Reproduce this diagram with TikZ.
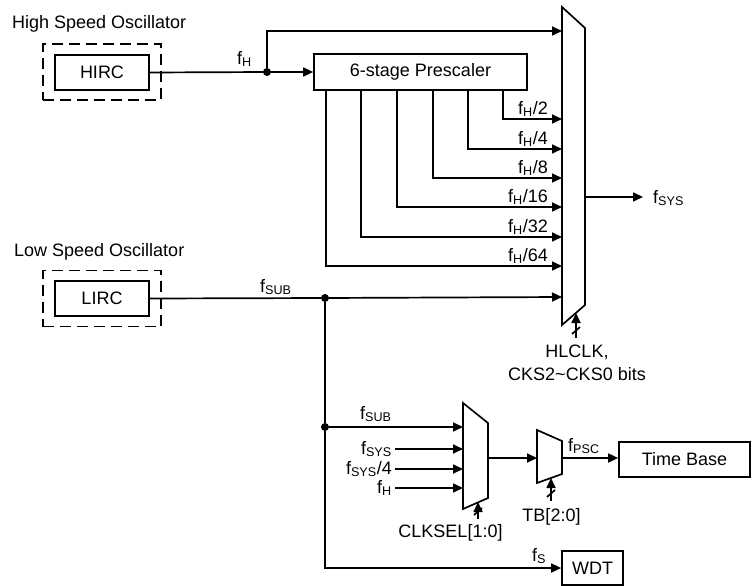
\documentclass[tikz,border=0pt]{standalone}
\usepackage{fontspec}
\setmainfont{Liberation Sans}
\usetikzlibrary{arrows.meta}

\tikzset{
  every node/.style={font=\fontsize{18}{23}\selectfont},
  blk/.style={draw, line width=1.7pt, inner sep=0pt},
  oscbox/.style={draw, dash pattern=on 11pt off 6pt, line width=1.7pt, minimum width=118pt, minimum height=56pt},
  dot/.style={fill=black, circle, inner sep=0pt, minimum size=8pt},
  lbl/.style={inner sep=0pt},
  sig/.style={line width=1.7pt},
  arr/.style={sig, -{Triangle[length=10pt,width=9pt]}},
}

\begin{document}
\begin{tikzpicture}[x=1pt, y=-1pt]
\useasboundingbox (0,0) rectangle (752,586);

% oscillators
\node[lbl, anchor=base west] (hstxt) at (12,29) {High Speed Oscillator};
\node[oscbox] (hdash) at (102,72) {};
\node[blk, minimum width=94pt, minimum height=35pt] (hirc) at (102,72.5) {HIRC};
\node[lbl, anchor=base west] (lstxt) at (14,256) {Low Speed Oscillator};
\node[oscbox] (ldash) at (102,298.5) {};
\node[blk, minimum width=94pt, minimum height=35pt] (lirc) at (102,298.5) {LIRC};

\node[blk, minimum width=213pt, minimum height=36pt] (pre) at (420.5,72) {6-stage Prescaler};
\node[dot] (hdot) at (267,72) {};
\node[dot] (ldot) at (325,298) {};
\node[dot] (sdot) at (325,427) {};

% muxes
\draw[sig] (562,7) -- (585,28) -- (585,305) -- (562,325) -- cycle;
\draw[sig] (463,403) -- (488,423) -- (488,498) -- (463,509) -- cycle;
\draw[sig] (537,430) -- (562,441) -- (562,474) -- (537,483) -- cycle;

\node[blk, minimum width=131pt, minimum height=35pt] (tb) at (684.5,459.5) {Time Base};
\node[blk, minimum width=61pt, minimum height=34pt] (wdt) at (592.5,568) {WDT};

% high speed path
\coordinate (m1in0) at (562,31);
\draw[sig] (hirc.east) -- (hdot);
\draw[arr] (hdot) -- (pre.west);
\draw[arr] (hdot) |- (m1in0);
\node[lbl, anchor=base west] (lfh) at (237,64) {f\textsubscript{H}};

\foreach \xx/\yy/\dv in {503/119/2, 468/149/4, 433/178/8, 397/207/16, 361/237/32, 326/266/64}{
  \coordinate (tap\dv) at (\xx,0);
  \coordinate (m1in\dv) at (562,\yy);
  \draw[arr] (pre.south -| tap\dv) |- (m1in\dv);
  \node[lbl, anchor=base east] (lfh\dv) at (548,\yy-5) {f\textsubscript{H}/\dv};
}

% low speed path
\coordinate (m1sub) at (562,297);
\draw[sig] (lirc.east) -- (ldot);
\draw[arr] (ldot) -- (m1sub);
\node[lbl, anchor=base west] (lfsub) at (260,292) {f\textsubscript{SUB}};
\draw[sig] (ldot) -- (sdot);
\draw[arr] (sdot) |- (wdt.west);
\node[lbl, anchor=base west] (lfs) at (532,561) {f\textsubscript{S}};

% system clock out
\coordinate (m1out) at (585,197);
\coordinate (fsysin) at (643,197);
\draw[arr] (m1out) -- (fsysin);
\node[lbl, anchor=base west] (lfsys) at (653,203) {f\textsubscript{SYS}};

% clock select mux
\coordinate (m2in0) at (463,427);
\draw[arr] (sdot) -- (m2in0);
\node[lbl, anchor=base west] (lsub2) at (360,419) {f\textsubscript{SUB}};
\foreach \yy/\nm/\txt in {449/lsys/{f\textsubscript{SYS}}, 469/lsys4/{f\textsubscript{SYS}/4}, 488/lfh2/{f\textsubscript{H}}}{
  \coordinate (m2in\nm) at (463,\yy);
  \node[anchor=east, inner sep=3pt] (\nm) at (395,\yy) {\txt};
  \draw[arr] (\nm.east) -- (m2in\nm);
}
\coordinate (m2out) at (488,458);
\coordinate (m3in) at (537,458);
\draw[arr] (m2out) -- (m3in);

% time base mux
\coordinate (m3out) at (562,458);
\draw[arr] (m3out) -- (tb.west |- m3out);
\node[lbl, anchor=base west] (lfpsc) at (568,451) {f\textsubscript{PSC}};

% select lines
\foreach \xx/\ya/\yb/\nm in {576/338/313/m1, 478/519/502/m2, 551/501/478/m3}{
  \coordinate (\nm ctl) at (\xx,\ya);
  \coordinate (\nm sel) at (\xx,\yb);
  \draw[arr] (\nm ctl) -- (\nm sel);
  \draw[sig] (\xx-4,\ya-4) -- (\xx+4,\ya-11);
}
\node[lbl, align=center, anchor=north] (lhlclk) at (577,345) {HLCLK,\\CKS2\textasciitilde CKS0 bits};
\node[lbl, anchor=base] (lclksel) at (450.5,537) {CLKSEL[1:0]};
\node[lbl, anchor=base] (ltb) at (551.5,521) {TB[2:0]};
\end{tikzpicture}
\end{document}
